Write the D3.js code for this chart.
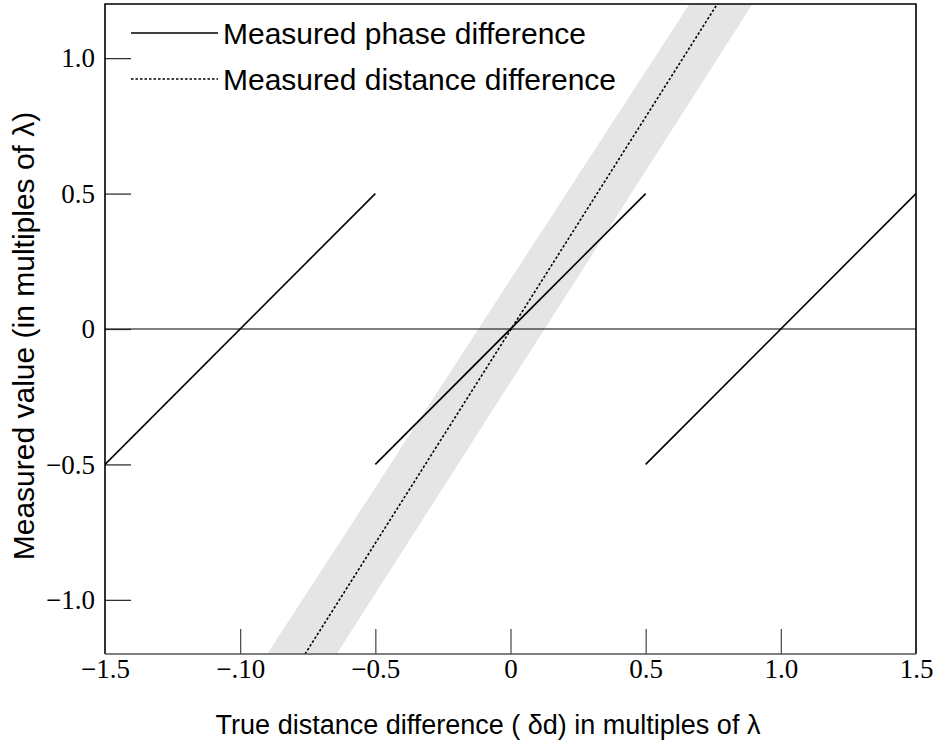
<!DOCTYPE html>
<html>
<head>
<meta charset="utf-8">
<script src="https://cdn.jsdelivr.net/npm/d3@7"></script>
<style>
  body { margin: 0; background: #fff; }
  .tick text { font-family: "Liberation Serif", "Times New Roman", serif; font-size: 27px; fill: #000; }
  .title { font-family: "Liberation Sans", Arial, Helvetica, sans-serif; font-size: 30px; fill: #000; }
  .xtitle { font-size: 27px; }
</style>
</head>
<body>
<div id="chart"></div>
<script>
// axis ticks and labels (the -1.0 label reads "−.10" in the source)
const xTicks = [-1.5, -1.0, -0.5, 0, 0.5, 1.0, 1.5];
const xTickLabels = ['\u22121.5', '\u2212.10', '\u22120.5', '0', '0.5', '1.0', '1.5'];
const yTicks = [-1.0, -0.5, 0, 0.5, 1.0];
const yTickLabels = ['\u22121.0', '\u22120.5', '0', '0.5', '1.0'];

// measured phase difference: wraps at +-0.5
const phaseSegments = [
    [{x: -1.5, y: -0.5}, {x: -0.5, y: 0.5}],
    [{x: -0.5, y: -0.5}, {x: 0.5, y: 0.5}],
    [{x: 0.5, y: -0.5}, {x: 1.5, y: 0.5}]
];
// measured distance difference (dotted)
const distanceLine = [{x: -0.76, y: -1.2}, {x: 0.765, y: 1.2}];
// uncertainty band around the distance line
const bandPoints = [{x: -0.90, y: -1.2}, {x: -0.643, y: -1.2}, {x: 0.895, y: 1.2}, {x: 0.662, y: 1.2}];

const legendLabels = ['Measured phase difference', 'Measured distance difference'];
const legendDash = [null, '2.5,2'];

const width = 937, height = 750;
const margin = {left: 105, right: 21, top: 4, bottom: 96};

const svg = d3.select('#chart').append('svg')
    .attr('width', width)
    .attr('height', height);

const x = d3.scaleLinear().domain([-1.5, 1.5]).range([margin.left, width - margin.right]);
const y = d3.scaleLinear().domain([-1.2, 1.2]).range([height - margin.bottom, margin.top]);

svg.append('defs').append('clipPath').attr('id', 'plot')
    .append('rect')
    .attr('x', x(-1.5)).attr('y', y(1.2))
    .attr('width', x(1.5) - x(-1.5)).attr('height', y(-1.2) - y(1.2));

const plot = svg.append('g').attr('clip-path', 'url(#plot)');

// band
plot.append('path')
    .datum(bandPoints)
    .attr('d', d3.line().x(d => x(d.x)).y(d => y(d.y)).curve(d3.curveLinearClosed))
    .attr('fill', '#e5e5e5');

// zero line
plot.append('line')
    .attr('x1', x(-1.5)).attr('x2', x(1.5))
    .attr('y1', y(0)).attr('y2', y(0))
    .attr('stroke', '#000').attr('stroke-width', 1.2);

const line = d3.line().x(d => x(d.x)).y(d => y(d.y));

plot.selectAll('.phase')
    .data(phaseSegments)
    .enter().append('path')
    .attr('class', 'phase')
    .attr('d', line)
    .attr('fill', 'none')
    .attr('stroke', '#000')
    .attr('stroke-width', 1.6);

plot.append('path')
    .datum(distanceLine)
    .attr('d', line)
    .attr('fill', 'none')
    .attr('stroke', '#000')
    .attr('stroke-width', 1.6)
    .attr('stroke-dasharray', '2.5,2');

// axes
const xAxis = svg.append('g')
    .attr('transform', 'translate(0,' + y(-1.2) + ')')
    .call(d3.axisBottom(x).tickValues(xTicks).tickSize(-25).tickPadding(5)
        .tickFormat((d, i) => xTickLabels[i]));
xAxis.select('.domain').remove();
xAxis.selectAll('.tick line').attr('stroke', '#444').attr('stroke-width', 1.2)
    .filter(d => d === -1.5 || d === 1.5).remove();
xAxis.selectAll('.tick text').attr('font-family', null).attr('font-size', null);

const yAxis = svg.append('g')
    .attr('transform', 'translate(' + x(-1.5) + ',0)')
    .call(d3.axisLeft(y).tickValues(yTicks).tickSize(-26).tickPadding(10)
        .tickFormat((d, i) => yTickLabels[i]));
yAxis.select('.domain').remove();
yAxis.selectAll('.tick line').attr('stroke', '#222').attr('stroke-width', 1.2);
yAxis.selectAll('.tick text').attr('font-family', null).attr('font-size', null);

// frame
svg.append('path')
    .attr('d', `M${x(-1.5)},${y(-1.2)}V${y(1.2)}H${x(1.5)}V${y(-1.2)}`)
    .attr('fill', 'none').attr('stroke', '#000').attr('stroke-width', 1.6);
svg.append('line')
    .attr('x1', x(-1.5)).attr('x2', x(1.5))
    .attr('y1', y(-1.2)).attr('y2', y(-1.2))
    .attr('stroke', '#555').attr('stroke-width', 1.4);

// legend
const legend = svg.append('g').attr('transform', 'translate(131,33)');
const item = legend.selectAll('g')
    .data(legendLabels)
    .enter().append('g')
    .attr('transform', (d, i) => 'translate(0,' + i * 46 + ')');
item.append('line')
    .attr('x1', 0).attr('x2', 87)
    .attr('stroke', '#000').attr('stroke-width', 1.6)
    .attr('stroke-dasharray', (d, i) => legendDash[i]);
item.append('text')
    .attr('class', 'title')
    .attr('x', 92)
    .attr('dy', '0.35em')
    .text(d => d);

// axis titles
svg.append('text')
    .attr('class', 'title xtitle')
    .attr('x', 488).attr('y', 734)
    .attr('text-anchor', 'middle')
    .text('True distance difference ( \u03b4d) in multiples of  \u03bb');

svg.append('text')
    .attr('class', 'title')
    .attr('transform', 'translate(34,336) rotate(-90)')
    .attr('text-anchor', 'middle')
    .text('Measured value (in multiples of  \u03bb)');
</script>
</body>
</html>
